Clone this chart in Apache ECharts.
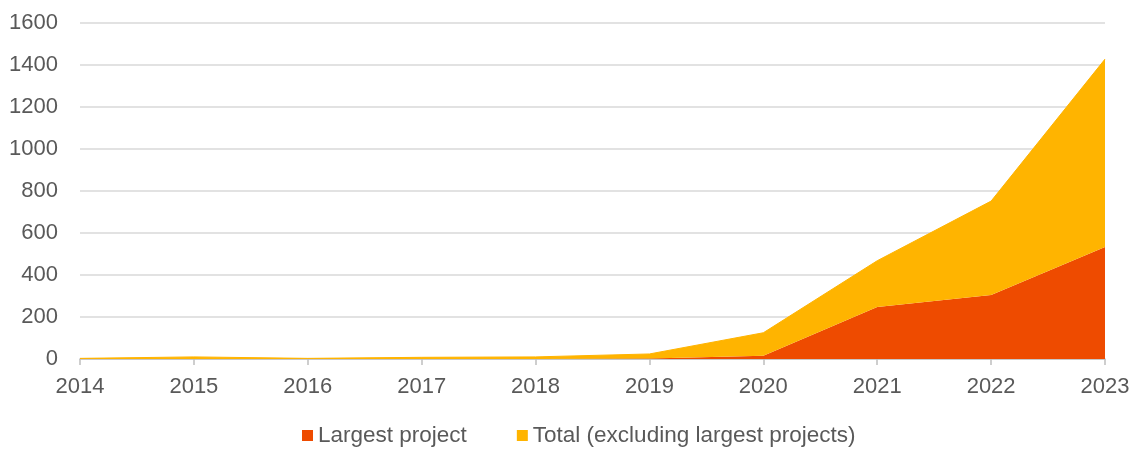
<!DOCTYPE html>
<html>
<head>
<meta charset="utf-8">
<script src="https://cdn.jsdelivr.net/npm/echarts@6/dist/echarts.min.js"></script>
<style>
  html, body { margin: 0; padding: 0; background: #fff; }
  #chart { width: 1137px; height: 449px; }
</style>
</head>
<body>
<div id="chart"></div>
<script>
// data
const years = ['2014', '2015', '2016', '2017', '2018', '2019', '2020', '2021', '2022', '2023'];
const largestProject = [0, 0, 0, 0, 0, 2, 15, 248, 305, 533];
const totalExclLargest = [3, 10, 3, 8, 10, 22, 110, 220, 447, 895];

const textColor = '#595959';
const fontFamily = 'Liberation Sans, Arial, sans-serif';

const chart = echarts.init(document.getElementById('chart'));

chart.setOption({
  animation: false,
  grid: {
    left: 80,
    right: 32,
    top: 23,
    bottom: 90
  },
  legend: {
    top: 422,
    left: 300,
    padding: 2,
    icon: 'rect',
    itemWidth: 11,
    itemHeight: 11,
    itemGap: 50,
    textStyle: {
      color: textColor,
      fontSize: 22.5,
      fontFamily: fontFamily,
      padding: [0, 0, 0, 0]
    },
    data: ['Largest project', 'Total (excluding largest projects)']
  },
  xAxis: {
    type: 'category',
    boundaryGap: false,
    data: years,
    axisLine: { lineStyle: { color: '#bfbfbf', width: 1.5 } },
    axisTick: { show: true, length: 6, lineStyle: { color: '#bfbfbf', width: 1.5 } },
    axisLabel: {
      color: textColor,
      fontSize: 22,
      fontFamily: fontFamily,
      margin: 17
    }
  },
  yAxis: {
    type: 'value',
    min: 0,
    max: 1600,
    interval: 200,
    axisLine: { show: false },
    axisTick: { show: false },
    axisLabel: {
      color: textColor,
      fontSize: 22,
      fontFamily: fontFamily,
      margin: 22,
      formatter: function (v) { return String(v); }
    },
    splitLine: { lineStyle: { color: '#d9d9d9', width: 1.5 } }
  },
  series: [
    {
      name: 'Largest project',
      type: 'line',
      stack: 'total',
      data: largestProject,
      symbol: 'none',
      itemStyle: { color: '#ee4b00' },
      lineStyle: { width: 0 },
      areaStyle: { color: '#ee4b00', opacity: 1 }
    },
    {
      name: 'Total (excluding largest projects)',
      type: 'line',
      stack: 'total',
      data: totalExclLargest,
      symbol: 'none',
      itemStyle: { color: '#ffb400' },
      lineStyle: { width: 1, color: '#ffb400' },
      areaStyle: { color: '#ffb400', opacity: 1 }
    }
  ]
});
</script>
</body>
</html>
